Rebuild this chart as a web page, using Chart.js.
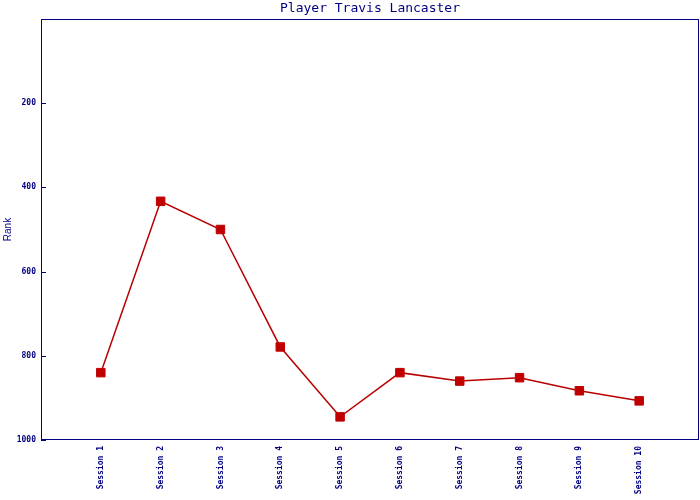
<!DOCTYPE html>
<html>
<head>
<meta charset="utf-8">
<script src="https://cdn.jsdelivr.net/npm/chart.js@4"></script>
<style>
  body { margin: 0; background: #fff; }
  #wrap { width: 700px; height: 500px; }
</style>
</head>
<body>
<div id="wrap"><canvas id="mycanvas"></canvas></div>
<script>
var sessions = ["Session 1", "Session 2", "Session 3", "Session 4", "Session 5",
                "Session 6", "Session 7", "Session 8", "Session 9", "Session 10"];
var ranks = [840, 433, 500, 779, 945, 840, 860, 852, 883, 907];
var yTicks = [200, 400, 600, 800, 1000];

var navy = "#000080";

// frame round the plot plus inward tick marks on the y axis
var framePlugin = {
  id: "frame",
  afterDraw: function(chart) {
    var ctx = chart.ctx;
    var a = chart.chartArea;
    var y = chart.scales.y;
    ctx.save();
    ctx.strokeStyle = navy;
    ctx.lineWidth = 1;
    ctx.strokeRect(Math.round(a.left) + 0.5, Math.round(a.top) + 0.5,
                   Math.round(a.right - a.left) - 1, Math.round(a.bottom - a.top) - 1);
    ctx.beginPath();
    yTicks.forEach(function(v) {
      var py = Math.round(y.getPixelForValue(v)) + 0.5;
      ctx.moveTo(a.left, py);
      ctx.lineTo(a.left + 5, py);
    });
    ctx.stroke();
    ctx.restore();
  }
};

var chartdata = {
  labels: [""].concat(sessions, [""]),
  datasets: [
    {
      label: "Rank",
      data: [null].concat(ranks, [null]),
      borderColor: "#b80000",
      backgroundColor: "#c00000",
      borderWidth: 1.5,
      pointStyle: "rect",
      pointRadius: 6,
      pointBorderWidth: 1,
      pointBorderColor: "#c00000",
      pointBackgroundColor: "#c00000",
      lineTension: 0
    }
  ]
};

var ctx = document.getElementById("mycanvas");

var LineGraph = new Chart(ctx, {
  type: "line",
  data: chartdata,
  plugins: [framePlugin],
  options: {
    responsive: true,
    maintainAspectRatio: false,
    animation: false,
    devicePixelRatio: 1,
    layout: { autoPadding: false, padding: { left: 0, right: 1, top: 0, bottom: 0 } },
    scales: {
      x: {
        offset: false,
        grid: { display: false, drawTicks: false },
        border: { display: false },
        afterFit: function(s) {
          s.height = 60;
          s.paddingLeft = 0;
          s.paddingRight = 0;
        },
        ticks: {
          autoSkip: false,
          minRotation: 90,
          maxRotation: 90,
          padding: 6,
          color: navy,
          font: { family: "DejaVu Sans Mono", size: 8, weight: "bold" }
        }
      },
      y: {
        reverse: true,
        min: 0,
        max: 1000,
        grid: { display: false, drawTicks: false },
        border: { display: false },
        afterFit: function(s) {
          s.width = 41;
          s.paddingTop = 0;
          s.paddingBottom = 0;
        },
        afterBuildTicks: function(s) {
          s.ticks = yTicks.map(function(v) { return { value: v }; });
        },
        title: {
          display: true,
          text: "Rank",
          color: navy,
          padding: { top: 2, bottom: 0 },
          font: { family: "Liberation Sans", size: 10 }
        },
        ticks: {
          padding: 5,
          color: navy,
          callback: function(v) { return String(v); },
          font: { family: "DejaVu Sans Mono", size: 8, weight: "bold" }
        }
      }
    },
    plugins: {
      title: {
        display: true,
        fullSize: false,
        text: "Player Travis Lancaster",
        color: navy,
        font: { family: "DejaVu Sans Mono", size: 13, weight: "normal" },
        padding: { top: 1, bottom: 2.4 }
      },
      legend: { display: false },
      tooltip: { enabled: false }
    }
  }
});
</script>
</body>
</html>
